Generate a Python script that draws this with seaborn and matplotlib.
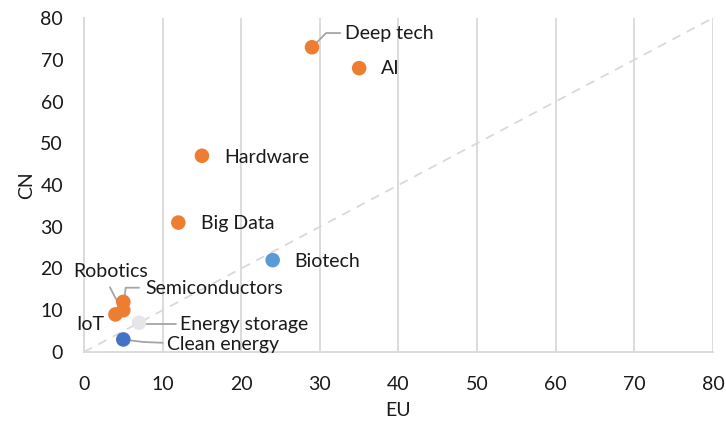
import matplotlib
matplotlib.use("Agg")
import matplotlib.pyplot as plt
import seaborn as sns
import pandas as pd

# Sector counts: EU vs CN
sectors = ["Deep tech", "AI", "Hardware", "Big Data", "Biotech", "Robotics",
           "Semiconductors", "IoT", "Energy storage", "Clean energy"]
eu_values = [29, 35, 15, 12, 24, 5, 5, 4, 7, 5]
cn_values = [73, 68, 47, 31, 22, 12, 10, 9, 7, 3]
groups = ["cn", "cn", "cn", "cn", "bio", "cn", "cn", "cn", "storage", "clean"]

palette = {"cn": "#ED7D31", "bio": "#5B9BD5", "storage": "#E7E6E6", "clean": "#4472C4"}

# label anchor (left edge, vertical centre) in data units
label_pos = {
    "Deep tech": (33.2, 76.4),
    "AI": (37.8, 67.8),
    "Hardware": (17.8, 46.7),
    "Big Data": (14.9, 30.7),
    "Biotech": (26.8, 21.6),
    "Robotics": (-1.4, 19.2),
    "Semiconductors": (7.8, 15.1),
    "IoT": (-1.0, 6.7),
    "Energy storage": (12.2, 6.5),
    "Clean energy": (10.6, 1.7),
}
leaders = {
    "Deep tech": [(29, 73), (30.8, 76.4), (32.6, 76.4)],
    "Robotics": [(3.3, 15.5), (4.9, 9.7)],
    "Semiconductors": [(7.0, 15.4), (5.3, 15.4), (5.1, 12)],
    "Energy storage": [(7, 6.8), (11.7, 6.8)],
    "Clean energy": [(5, 3), (7.5, 2.4), (10.0, 2.2)],
}

df = pd.DataFrame({"sector": sectors, "EU": eu_values, "CN": cn_values, "group": groups})

sns.set_style("white")
plt.rcParams["font.family"] = ["Lato", "DejaVu Sans"]
FS = 14
TXT = "#1a1a1a"

fig = plt.figure(figsize=(7.26, 4.25), dpi=100)
ax = fig.add_axes([0.1157, 0.1718, 0.8663, 0.7858])

ax.plot([0, 80], [0, 80], ls=(0, (5, 4)), color="#D9D9D9", lw=1.3, zorder=1)

for name, pts in leaders.items():
    xs, ys = zip(*pts)
    ax.plot(xs, ys, color="#A5A5A5", lw=1.3, zorder=2, clip_on=False)

sns.scatterplot(data=df, x="EU", y="CN", hue="group", palette=palette, s=110,
                edgecolor="none", legend=False, ax=ax, zorder=3, clip_on=False)

for name in sectors:
    lx, ly = label_pos[name]
    ax.text(lx, ly, name, fontsize=FS, va="center", ha="left", color=TXT, zorder=4)

ax.set_xlim(0, 80)
ax.set_ylim(0, 80)
ax.set_xticks(range(0, 81, 10))
ax.set_yticks(range(0, 81, 10))
ax.grid(axis="x", color="#D9D9D9", lw=1.3)
ax.grid(axis="y", visible=False)
ax.set_axisbelow(True)
for side in ["top", "right"]:
    ax.spines[side].set_visible(False)
for side in ["left", "bottom"]:
    ax.spines[side].set_color("#D9D9D9")
    ax.spines[side].set_linewidth(1.3)
ax.tick_params(axis="x", length=0, labelsize=FS, colors=TXT, pad=17)
ax.tick_params(axis="y", length=0, labelsize=FS, colors=TXT, pad=15)
ax.set_xlabel("EU", fontsize=FS, color=TXT, va="center")
ax.set_ylabel("CN", fontsize=FS, color=TXT, va="center")
ax.xaxis.set_label_coords(0.5, -0.174)
ax.yaxis.set_label_coords(-0.092, 0.5)

fig.savefig("out.png", dpi=100)
